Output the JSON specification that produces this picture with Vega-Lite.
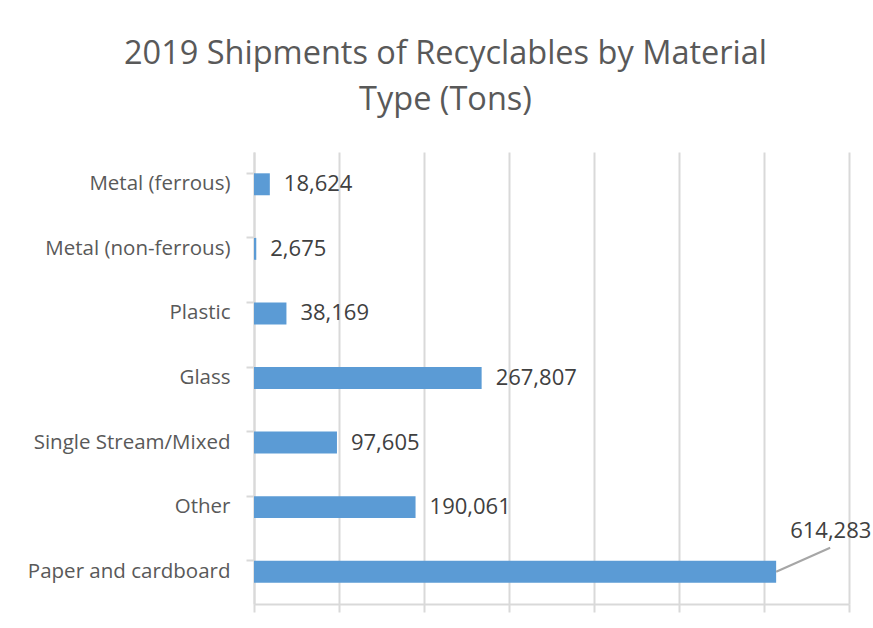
{
  "$schema": "https://vega.github.io/schema/vega-lite/v6.json",
  "width": 595,
  "height": 452,
  "autosize": {"type": "none"},
  "padding": {"left": 254, "top": 152, "right": 24, "bottom": 24},
  "background": "white",
  "title": {
    "text": ["2019 Shipments of Recyclables by Material", "Type (Tons)"],
    "font": "Open Sans",
    "fontSize": 32.5,
    "fontWeight": "normal",
    "color": "#595959",
    "anchor": "middle",
    "frame": "group",
    "dx": -106,
    "lineHeight": 46,
    "offset": 36
  },
  "config": {
    "view": {"stroke": null},
    "font": "Open Sans"
  },
  "data": {
    "values": [
      {"material": "Metal (ferrous)", "tons": 18624},
      {"material": "Metal (non-ferrous)", "tons": 2675},
      {"material": "Plastic", "tons": 38169},
      {"material": "Glass", "tons": 267807},
      {"material": "Single Stream/Mixed", "tons": 97605},
      {"material": "Other", "tons": 190061},
      {"material": "Paper and cardboard", "tons": 614283}
    ]
  },
  "encoding": {
    "y": {
      "field": "material",
      "type": "nominal",
      "sort": null,
      "scale": {"paddingInner": 0.66, "paddingOuter": 0.33},
      "axis": {
        "title": null,
        "labelFont": "Open Sans",
        "labelFontSize": 20.5,
        "labelColor": "#595959",
        "labelPadding": 16,
        "labelLimit": 300,
        "tickSize": 8,
        "tickColor": "#d9d9d9",
        "tickWidth": 2,
        "bandPosition": 0,
        "domainColor": "#d9d9d9",
        "domainWidth": 2,
        "grid": false
      }
    },
    "x": {
      "field": "tons",
      "type": "quantitative",
      "scale": {"domain": [0, 700000], "nice": false},
      "axis": {
        "title": null,
        "labels": false,
        "values": [0, 100000, 200000, 300000, 400000, 500000, 600000, 700000],
        "grid": true,
        "gridColor": "#d9d9d9",
        "gridWidth": 2,
        "tickSize": 8,
        "tickColor": "#d9d9d9",
        "tickWidth": 2,
        "domainColor": "#d9d9d9",
        "domainWidth": 2
      }
    }
  },
  "layer": [
    {
      "mark": {"type": "bar", "color": "#5b9bd5"}
    },
    {
      "transform": [{"filter": "datum.material !== 'Paper and cardboard'"}],
      "mark": {"type": "text", "align": "left", "baseline": "middle", "dx": 14, "fontSize": 22, "color": "#404040", "font": "Open Sans"},
      "encoding": {"text": {"field": "tons", "type": "quantitative", "format": ","}}
    },
    {
      "transform": [{"filter": "datum.material === 'Paper and cardboard'"}],
      "mark": {"type": "text", "align": "left", "baseline": "middle", "dx": 14, "dy": -41, "fontSize": 22, "color": "#404040", "font": "Open Sans"},
      "encoding": {"text": {"field": "tons", "type": "quantitative", "format": ","}}
    },
    {
      "transform": [{"filter": "datum.material === 'Paper and cardboard'"}],
      "mark": {"type": "rule", "color": "#a6a6a6", "strokeWidth": 2, "x2Offset": 54, "y2Offset": -24},
      "encoding": {
        "x2": {"field": "tons"},
        "y2": {"field": "material"}
      }
    }
  ]
}
